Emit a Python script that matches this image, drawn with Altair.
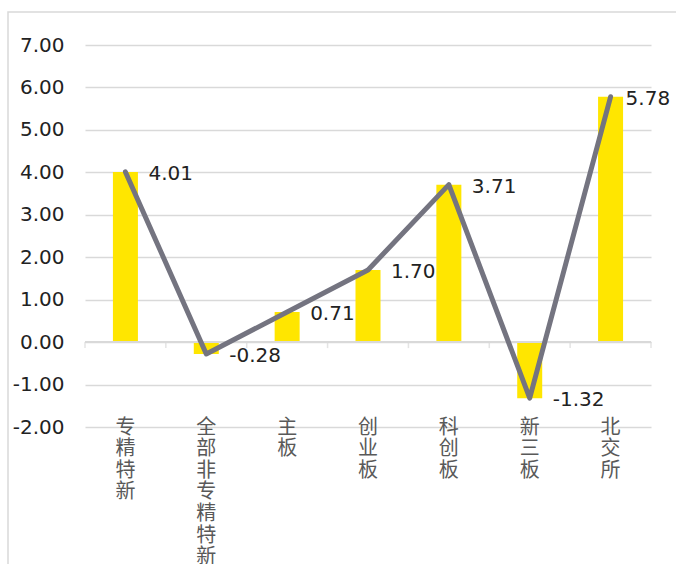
import altair as alt
import pandas as pd

# Category names and their values
categories = ["专精特新", "全部非专精特新", "主板", "创业板", "科创板", "新三板", "北交所"]
values = [4.01, -0.28, 0.71, 1.70, 3.71, -1.32, 5.78]

df = pd.DataFrame({"cat": categories, "val": values})

W, H = 566, 382
order = categories

# two-decimal format with a plain hyphen as the minus sign
FMT = "replace(format({v}, '.2f'), '\u2212', '-')"

x_enc = alt.X(
    "cat:N",
    sort=order,
    scale=alt.Scale(paddingInner=0, paddingOuter=0),
    axis=alt.Axis(
        title=None,
        labelAngle=0,
        labelExpr="split(datum.label, '')",
        labelFont="Noto Sans CJK SC",
        labelFontSize=20,
        labelLineHeight=21.6,
        labelColor="#595959",
        labelPadding=-10,
        domain=False,
        ticks=False,
        grid=False,
    ),
)

y_scale = alt.Scale(domain=[-2, 7], nice=False, zero=False)
y_enc = alt.Y(
    "val:Q",
    scale=y_scale,
    axis=alt.Axis(
        title=None,
        values=list(range(-2, 8)),
        labelExpr=FMT.format(v="datum.value"),
        labelFont="DejaVu Sans",
        labelFontSize=20,
        labelColor="#222222",
        labelPadding=21,
        domain=False,
        ticks=False,
        gridColor="#d9d9d9",
        gridWidth=1.5,
    ),
)

base = alt.Chart(df).transform_calculate(lbl=FMT.format(v="datum.val"))

bars = base.mark_bar(size=25, color="#FFE600").encode(x=x_enc, y=y_enc)

# zero baseline with category separator ticks
zero_line = base.mark_rule(color="#d9d9d9", strokeWidth=1.5).encode(
    x=alt.value(0), x2=alt.value(W), y=alt.datum(0)
)
sep_ticks = base.mark_tick(
    orient="vertical", size=6, yOffset=3, color="#d9d9d9", thickness=1.5
).encode(x=alt.X("cat:N", sort=order, bandPosition=0), y=alt.datum(0))
end_tick = base.transform_filter(
    alt.datum.cat == categories[-1]
).mark_tick(
    orient="vertical", size=6, yOffset=3, color="#d9d9d9", thickness=1.5
).encode(x=alt.X("cat:N", sort=order, bandPosition=1), y=alt.datum(0))

line = base.mark_line(
    color="#747480", strokeWidth=5, strokeCap="round", strokeJoin="round"
).encode(x=x_enc, y=y_enc)

label_style = dict(
    align="left", baseline="middle", dy=2, font="DejaVu Sans",
    fontSize=20, color="#222222",
)
labels = base.transform_filter(
    alt.datum.cat != categories[-1]
).mark_text(dx=23, **label_style).encode(
    x=x_enc, y=y_enc, text="lbl:N"
)
labels_last = base.transform_filter(
    alt.datum.cat == categories[-1]
).mark_text(dx=15, **label_style).encode(
    x=x_enc, y=y_enc, text="lbl:N"
)

# outer frame
frame = alt.Chart(pd.DataFrame({"k": [0]})).mark_rect(
    fill=None, stroke="#d9d9d9", strokeWidth=1.5
).encode(
    x=alt.value(-77), y=alt.value(-33), x2=alt.value(W + 100), y2=alt.value(H + 200)
)

chart = alt.layer(
    frame, bars, zero_line, sep_ticks, end_tick, line, labels, labels_last
).properties(
    width=W,
    height=H,
    autosize=alt.AutoSizeParams(type="none"),
    padding={"left": 85, "top": 45, "right": 25, "bottom": 137},
).configure_view(strokeWidth=0)

chart.save("out.html", embed_options={"renderer": "svg", "actions": False})
